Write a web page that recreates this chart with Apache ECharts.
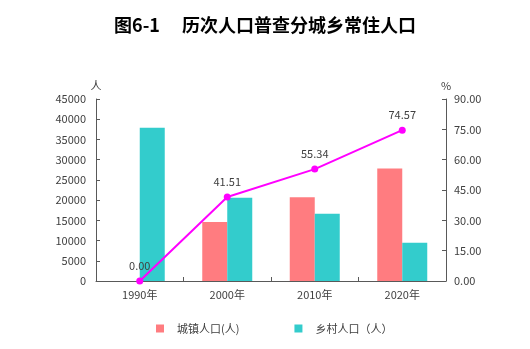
<!DOCTYPE html>
<html><head><meta charset="utf-8">
<script src="https://cdn.jsdelivr.net/npm/echarts@6/dist/echarts.min.js"></script>
<style>html,body{margin:0;padding:0;background:#fff}#c{width:530px;height:349px}</style>
</head><body><div id="c"></div>
<script>
const categories = ['1990年', '2000年', '2010年', '2020年'];
const urbanPop = [0, 14600, 20700, 27800];
const ruralPop = [37900, 20600, 16650, 9480];
const urbanRate = [0.00, 41.51, 55.34, 74.57];
const leftTicks = [0, 45000, 5000];
const rightTicks = [0, 90, 15];

const chart = echarts.init(document.getElementById('c'));
const axisColor = '#595959';
const txt = '#404040';
const font = '"Noto Sans CJK SC", "DejaVu Sans", sans-serif';
chart.setOption({
  animation: false,
  title: {
    text: '图6-1　 历次人口普查分城乡常住人口',
    left: 'center', top: 11,
    textStyle: { fontSize: 18, fontWeight: 'bold', color: '#000', fontFamily: font }
  },
  legend: {
    data: ['城镇人口(人)', '乡村人口（人）'],
    bottom: 10, left: 151, itemWidth: 8, itemHeight: 8, itemGap: 55,
    icon: 'rect',
    textStyle: { fontSize: 11, color: txt, fontFamily: font, padding: [0, 0, 0, 8] }
  },
  grid: { left: 96, right: 84, top: 99, bottom: 68 },
  xAxis: {
    type: 'category', data: categories,
    axisLine: { lineStyle: { color: axisColor, width: 1 } },
    axisTick: { show: true, inside: true, length: 4, lineStyle: { color: axisColor } },
    axisLabel: { color: txt, fontSize: 11, margin: 8, fontFamily: font }
  },
  yAxis: [{
    type: 'value', min: leftTicks[0], max: leftTicks[1], interval: leftTicks[2],
    name: '人', nameGap: 8, nameTextStyle: { color: txt, fontSize: 11, align: 'center', fontFamily: font },
    axisLine: { show: true, lineStyle: { color: axisColor } },
    axisTick: { show: true, inside: true, length: 4, lineStyle: { color: axisColor } },
    splitLine: { show: false },
    axisLabel: { color: txt, fontSize: 11, margin: 10, fontFamily: font, formatter: v => String(v) }
  }, {
    type: 'value', min: rightTicks[0], max: rightTicks[1], interval: rightTicks[2],
    name: '%', nameGap: 8, nameTextStyle: { color: txt, fontSize: 11, align: 'center', fontFamily: font },
    axisLine: { show: true, lineStyle: { color: axisColor } },
    axisTick: { show: true, inside: true, length: 4, lineStyle: { color: axisColor } },
    splitLine: { show: false },
    axisLabel: { color: txt, fontSize: 11, margin: 8, fontFamily: font, formatter: v => v.toFixed(2) }
  }],
  series: [{
    name: '城镇人口(人)', type: 'bar', data: urbanPop, barWidth: 25, barGap: '0%',
    itemStyle: { color: '#FF7C80' }
  }, {
    name: '乡村人口（人）', type: 'bar', data: ruralPop, barWidth: 25, barGap: '0%',
    itemStyle: { color: '#33CCCC' }
  }, {
    name: '城镇化率', type: 'line', yAxisIndex: 1, data: urbanRate,
    symbol: 'circle', symbolSize: 7,
    lineStyle: { color: '#FF00FF', width: 2 }, itemStyle: { color: '#FF00FF' },
    label: { show: true, position: 'top', distance: 6, color: txt, fontSize: 11, fontFamily: font,
      formatter: p => p.value.toFixed(2) }
  }]
});
</script></body></html>
